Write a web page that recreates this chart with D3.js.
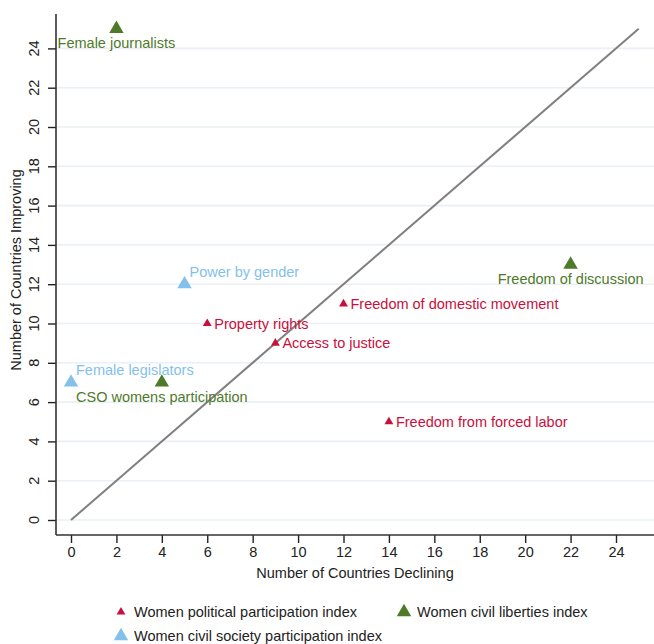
<!DOCTYPE html>
<html><head><meta charset="utf-8">
<script src="https://cdn.jsdelivr.net/npm/d3@7"></script>
<style>body{margin:0;background:#fff}svg{display:block;font-family:"Liberation Sans",Arial,sans-serif}</style>
</head><body>
<script>
const seriesNames = ["Women political participation index","Women civil liberties index","Women civil society participation index"];
const seriesColors = ["#c8103c","#4e7a2a","#84c1ea"];
const seriesSizes = [34, 90, 90];
// points: label, declining (x), improving (y), series index, label position
const labels   = ["Property rights","Access to justice","Freedom of domestic movement","Freedom from forced labor","Female journalists","Freedom of discussion","CSO womens participation","Power by gender","Female legislators"];
const declining = [6, 9, 12, 14, 2, 22, 4, 5, 0];
const improving = [10, 9, 11, 5, 25, 13, 7, 12, 7];
const seriesIdx = [0, 0, 0, 0, 1, 1, 1, 2, 2];
const labelPos  = ["right","right","right","right","below","below","below","aboveright","aboveright"];
const xTicks = [0,2,4,6,8,10,12,14,16,18,20,22,24];
const yTicks = [0,2,4,6,8,10,12,14,16,18,20,22,24];

(function(){
const W = 654, H = 644, FS = 14.5;
const svg = d3.select("body").append("svg").attr("width", W).attr("height", H);
const x = d3.scaleLinear().domain([0, 24]).range([71, 616]);
const y = d3.scaleLinear().domain([0, 24]).range([520, 48.4]);
const pLeft = 56, pBottom = 535, pTop = 14, pRight = W;

// gridlines
svg.append("g").selectAll("line").data(yTicks).join("line")
  .attr("x1", pLeft).attr("x2", pRight).attr("y1", d => y(d)).attr("y2", d => y(d))
  .attr("stroke", "#eaf0f5").attr("stroke-width", 1.6);

// diagonal
svg.append("line").attr("x1", x(0)).attr("y1", y(0)).attr("x2", x(25)).attr("y2", y(25))
  .attr("stroke", "#808080").attr("stroke-width", 2);

// axes
const xAxis = d3.axisBottom(x).tickValues(xTicks).tickSize(8).tickPadding(4).tickSizeOuter(0);
const gx = svg.append("g").attr("transform", `translate(0,${pBottom})`).call(xAxis);
gx.select(".domain").remove();
gx.append("line").attr("x1", pLeft).attr("x2", pRight).attr("stroke", "#333").attr("stroke-width", 1.6);
gx.selectAll(".tick line").attr("stroke", "#222").attr("stroke-width", 1.4);
gx.selectAll(".tick text").attr("font-size", FS).attr("fill", "#222").attr("font-family", "Liberation Sans, Arial, sans-serif");

const yAxis = d3.axisLeft(y).tickValues(yTicks).tickSize(8).tickSizeOuter(0).tickFormat("");
const gy = svg.append("g").attr("transform", `translate(${pLeft},0)`).call(yAxis);
gy.select(".domain").remove();
gy.append("line").attr("y1", pTop).attr("y2", pBottom).attr("stroke", "#333").attr("stroke-width", 1.6);
gy.selectAll(".tick line").attr("stroke", "#222").attr("stroke-width", 1.4);
svg.append("g").selectAll("text").data(yTicks).join("text")
  .attr("transform", d => `translate(38.5,${y(d)}) rotate(-90)`)
  .attr("text-anchor", "middle").attr("font-size", FS).attr("fill", "#222")
  .text(d => d);

// axis titles
svg.append("text").attr("x", 355).attr("y", 578).attr("text-anchor", "middle")
  .attr("font-size", FS).attr("fill", "#222").text("Number of Countries Declining");
svg.append("text").attr("transform", `translate(21,270) rotate(-90)`).attr("text-anchor", "middle")
  .attr("font-size", FS).attr("fill", "#222").text("Number of Countries Improving");

// points
const pts = labels.map((l, i) => ({label: l, x: declining[i], y: improving[i], s: seriesIdx[i], pos: labelPos[i]}));
const tri = d3.symbol().type(d3.symbolTriangle);
svg.append("g").selectAll("path").data(pts).join("path")
  .attr("transform", d => `translate(${x(d.x)},${y(d.y)})`)
  .attr("d", d => tri.size(seriesSizes[d.s])())
  .attr("fill", d => seriesColors[d.s]);

svg.append("g").selectAll("text").data(pts).join("text")
  .attr("x", d => d.pos === "right" ? x(d.x) + 7 : d.pos === "below" ? x(d.x) : x(d.x) + 5)
  .attr("y", d => d.pos === "right" ? y(d.y) + 5 : d.pos === "below" ? y(d.y) + 19.5 : y(d.y) - 7)
  .attr("text-anchor", d => d.pos === "below" ? "middle" : "start")
  .attr("font-size", FS).attr("fill", d => seriesColors[d.s])
  .text(d => d.label);

// legend
const legendPos = [[121, 612], [404, 612], [121, 636]];
const lg = svg.append("g").selectAll("g").data(seriesNames).join("g")
  .attr("transform", (d, i) => `translate(${legendPos[i][0]},${legendPos[i][1]})`);
lg.append("path").attr("d", (d, i) => tri.size(seriesSizes[i])()).attr("fill", (d, i) => seriesColors[i]);
lg.append("text").attr("x", 13).attr("y", 5).attr("font-size", FS).attr("fill", "#222").text(d => d);
})();
</script>
</body></html>
